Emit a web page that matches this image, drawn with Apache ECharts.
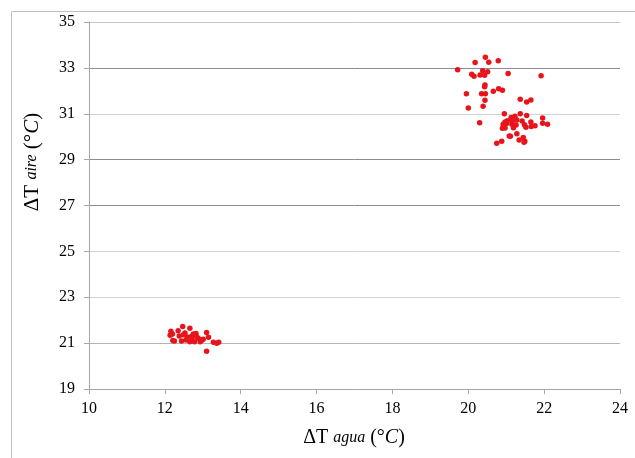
<!DOCTYPE html>
<html>
<head>
<meta charset="utf-8">
<script src="https://cdn.jsdelivr.net/npm/echarts@6/dist/echarts.min.js"></script>
<style>html,body{margin:0;padding:0;background:#fff}#c{width:635px;height:458px}</style>
</head>
<body>
<div id="c"></div>
<script>
// Upper cluster: [ΔT agua, ΔT aire]
var clusterHigh = [
  [20.45,33.46],[20.18,33.23],[20.54,33.24],[20.79,33.31],[19.72,32.92],[20.38,32.88],
  [20.51,32.83],[20.09,32.72],[20.15,32.63],[20.31,32.69],[20.43,32.68],[21.05,32.75],
  [21.92,32.66],[20.44,32.25],[20.43,32.18],[19.95,31.87],[20.35,31.87],[20.45,31.87],
  [20.66,31.98],[20.80,32.09],[20.90,32.02],[20.44,31.59],[20.39,31.33],[20.00,31.25],
  [20.95,31.00],[20.30,30.61],[20.97,30.64],[21.03,30.70],[21.01,30.58],[20.90,30.37],
  [20.97,30.38],[20.88,29.80],[20.75,29.71],[21.08,30.03],[21.37,31.63],[21.54,31.51],
  [21.65,31.60],[21.13,30.84],[21.23,30.89],[21.37,31.00],[21.54,30.92],[21.96,30.82],
  [21.16,30.68],[21.28,30.73],[21.42,30.68],[21.65,30.64],[21.96,30.59],[22.09,30.54],
  [20.92,30.54],[21.15,30.54],[21.26,30.51],[21.48,30.52],[21.19,30.39],[21.52,30.41],
  [21.66,30.44],[21.76,30.48],[21.28,30.13],[21.11,30.02],[21.45,29.97],[21.34,29.86],
  [21.49,29.80],[21.47,29.76]
];
// Lower cluster
var clusterLow = [
  [12.16,21.52],[12.20,21.40],[12.14,21.34],[12.25,21.09],[12.21,21.11],[12.35,21.54],
  [12.47,21.73],[12.38,21.31],[12.66,21.65],[12.49,21.36],[12.59,21.27],[12.44,21.09],
  [12.70,21.29],[12.75,21.40],[12.82,21.42],[12.84,21.28],[12.78,21.06],[12.88,21.21],
  [12.97,21.11],[13.01,21.17],[13.10,21.46],[13.15,21.26],[13.10,20.65],[13.28,21.04],
  [13.37,20.99],[13.42,21.04],[12.66,21.06],[12.93,21.06],[12.56,21.14],[12.53,21.44],
  [12.72,21.14]
];
var xMin = 10, xMax = 24, xStep = 2;
var yMin = 19, yMax = 35, yStep = 2;

var serif = '"Liberation Serif", "DejaVu Serif", serif';
var chart = echarts.init(document.getElementById('c'), null, {renderer: 'canvas'});
chart.setOption({
  animation: false,
  backgroundColor: '#fff',
  grid: {left: 89, right: 15, top: 22, bottom: 69, containLabel: false},
  xAxis: {
    type: 'value', min: xMin, max: xMax, interval: xStep,
    axisLine: {show: true, lineStyle: {color: '#a6a6a6', width: 1}},
    axisTick: {show: true, inside: false, length: 5, lineStyle: {color: '#a6a6a6'}},
    axisLabel: {color: '#000', fontFamily: serif, fontSize: 16, margin: 12},
    splitLine: {show: false}
  },
  yAxis: {
    type: 'value', min: yMin, max: yMax, interval: yStep,
    axisLine: {show: true, lineStyle: {color: '#a6a6a6', width: 1}},
    axisTick: {show: true, inside: false, length: 5, lineStyle: {color: '#a6a6a6'}},
    axisLabel: {color: '#000', fontFamily: serif, fontSize: 16, margin: 14},
    splitLine: {show: true, lineStyle: {width: 1, color: ['#a6a6a6','#b4b4b4','#d4d4d4','#d4d4d4','#8c8c8c','#8c8c8c','#d4d4d4','#8c8c8c','#c4c4c4']}}
  },
  series: [
    {type: 'scatter', data: clusterHigh, symbol: 'circle', symbolSize: 5.5, itemStyle: {color: '#e8141b', opacity: 1}},
    {type: 'scatter', data: clusterLow, symbol: 'circle', symbolSize: 5.5, itemStyle: {color: '#e8141b', opacity: 1}}
  ],
  graphic: [
    {type: 'rect', silent: true, z: -1, shape: {x: 11.5, y: 11.5, width: 640, height: 470}, style: {fill: null, stroke: '#bfbfbf', lineWidth: 1}},
    {type: 'text', x: 354, y: 438, style: {
      text: '{a|ΔT }{b|agua}{a| (°}{c|C}{a|)}', align: 'center', verticalAlign: 'middle',
      rich: {a: {fontFamily: serif, fontSize: 20, fill: '#000'}, b: {fontFamily: serif, fontSize: 16, fontStyle: 'italic', fill: '#000'}, c: {fontFamily: serif, fontSize: 20, fontStyle: 'italic', fill: '#000'}}
    }},
    {type: 'text', x: 32, y: 162, rotation: Math.PI / 2, style: {
      text: '{a|ΔT }{b|aire}{a| (°}{c|C}{a|)}', align: 'center', verticalAlign: 'middle',
      rich: {a: {fontFamily: serif, fontSize: 21, fill: '#000'}, b: {fontFamily: serif, fontSize: 16, fontStyle: 'italic', fill: '#000'}, c: {fontFamily: serif, fontSize: 21, fontStyle: 'italic', fill: '#000'}}
    }}
  ]
});
</script>
</body>
</html>
